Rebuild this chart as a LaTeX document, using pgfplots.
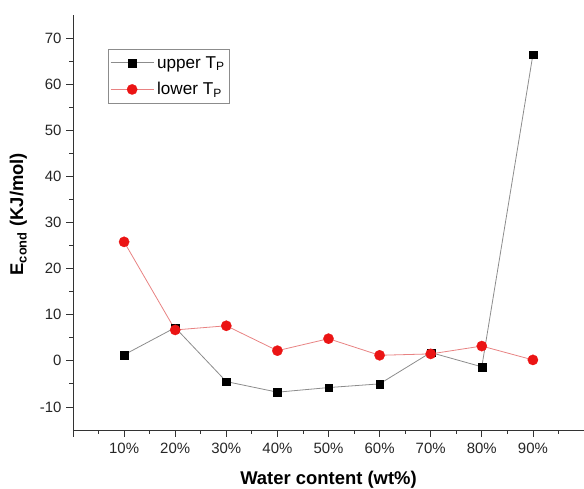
\documentclass[border=0pt]{standalone}
\usepackage{pgfplots}
\pgfplotsset{compat=1.18}
\usepackage{fontspec}
\setmainfont{Liberation Sans}
\definecolor{mred}{RGB}{235,20,20}
\definecolor{lred}{RGB}{232,130,130}
\definecolor{lgray}{RGB}{140,140,140}
\begin{document}
\begin{tikzpicture}
\begin{axis}[
  scale only axis,
  width=511bp, height=415bp,
  xmin=0, xmax=10, ymin=-15, ymax=75,
  axis x line*=bottom, axis y line*=left,
  axis line style={line width=0.9pt, black!80},
  xtick={0,1,2,3,4,5,6,7,8,9,10},
  xticklabels={,10\%,20\%,30\%,40\%,50\%,60\%,70\%,80\%,90\%,},
  minor x tick num=1,
  ytick={-10,0,10,20,30,40,50,60,70},
  minor y tick num=1,
  tick align=outside,
  major tick length=7bp, minor tick length=4bp,
  tick style={line width=0.8pt, black!80},
  /pgf/number format/assume math mode=true,
  ticklabel style={font=\fontsize{15}{17}\selectfont, text=black!85},
  xticklabel style={yshift=-3bp},
  yticklabel style={xshift=-1bp},
  xlabel={\textbf{Water content (wt\%)}},
  ylabel={\textbf{E\textsubscript{cond} (KJ/mol)}},
  label style={font=\fontsize{18.5}{21}\selectfont},
  xlabel style={at={(axis description cs:0.5,-0.12)}, anchor=center},
  ylabel style={at={(axis description cs:-0.107,0.52)}, anchor=center},
  legend style={at={(0.0685,0.918)}, anchor=north west, draw=black!45,
    font=\fontsize{17.2}{19}\selectfont, row sep=9bp, inner xsep=2bp, inner ysep=5bp,
    nodes={inner xsep=3bp}},
  legend cell align=left,
  legend image code/.code={
    \draw[mark repeat=2,mark phase=2,#1] plot coordinates {(0cm,0cm) (0.76cm,0cm) (1.52cm,0cm)};
  },
  clip=false,
]
\addplot[lgray, line width=0.8pt, mark=square*, mark size=3.9bp,
  mark options={fill=black, draw=black, line width=0.2pt}]
  coordinates {(1,1.3) (2,7.2) (3,-4.5) (4,-6.8) (5,-5.8) (6,-5.0) (7,1.8) (8,-1.3) (9,66.4)};
\addlegendentry{upper T\textsubscript{P}}
\addplot[lred, line width=0.8pt, mark=*, mark size=5.2bp,
  mark options={fill=mred, draw=mred, line width=0.2pt}]
  coordinates {(1,25.8) (2,6.7) (3,7.6) (4,2.2) (5,4.8) (6,1.2) (7,1.5) (8,3.2) (9,0.2)};
\addlegendentry{lower T\textsubscript{P}}
\end{axis}
\pgfresetboundingbox
\path[use as bounding box] ([xshift=-73bp,yshift=-59bp]current axis.south west) rectangle ([yshift=15bp]current axis.north east);
\end{tikzpicture}
\end{document}
